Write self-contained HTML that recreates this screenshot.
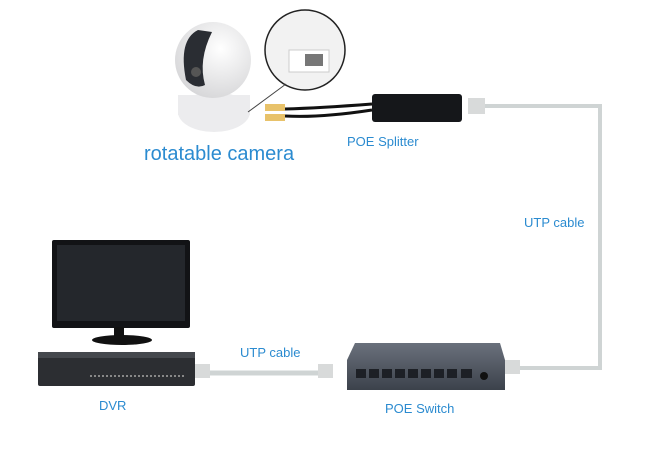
<!DOCTYPE html>
<html><head><style>
body{margin:0;background:#fff;}
svg{display:block;}
text{font-family:"Liberation Sans",sans-serif;fill:#2b8bd0;}
</style></head><body>
<svg width="650" height="469" viewBox="0 0 650 469">
<defs>
<linearGradient id="sw" x1="0" y1="0" x2="0" y2="1"><stop offset="0" stop-color="#6a717c"/><stop offset="1" stop-color="#3c424b"/></linearGradient>
<radialGradient id="ball" cx="0.6" cy="0.35" r="0.7"><stop offset="0" stop-color="#fff"/><stop offset="1" stop-color="#d6d6d8"/></radialGradient>
</defs>
<!-- cables -->
<path d="M485 106 H600 V368 H515" fill="none" stroke="#cfd4d4" stroke-width="4"/>
<line x1="205" y1="373" x2="330" y2="373" stroke="#cfd4d4" stroke-width="5"/>
<!-- camera -->
<ellipse cx="214" cy="112" rx="36" ry="20" fill="#ececee"/>
<rect x="178" y="95" width="72" height="20" fill="#ececee"/>
<circle cx="213" cy="60" r="38" fill="url(#ball)"/>
<path d="M198 30 Q178 40 186 80 Q196 90 205 85 Q198 60 212 32 Z" fill="#2a2d33"/>
<circle cx="196" cy="72" r="5" fill="#555"/>
<!-- magnifier -->
<circle cx="305" cy="50" r="40" fill="#f2f2f2" stroke="#222" stroke-width="1.5"/>
<rect x="289" y="50" width="40" height="22" fill="#fff" stroke="#ccc"/>
<rect x="305" y="54" width="18" height="12" fill="#777"/>
<line x1="286" y1="84" x2="248" y2="112" stroke="#444" stroke-width="1"/>
<!-- pigtails -->
<path d="M285 109 Q320 108 372 104 M285 116 Q320 118 372 110" stroke="#111" stroke-width="3" fill="none"/>
<rect x="265" y="104" width="20" height="7" fill="#e8c26a"/>
<rect x="265" y="114" width="20" height="7" fill="#e8c26a"/>
<!-- splitter -->
<rect x="372" y="94" width="90" height="28" rx="3" fill="#15171a"/>
<rect x="468" y="98" width="17" height="16" fill="#d8dada"/>
<text x="347" y="146" font-size="13">POE Splitter</text>
<text x="144" y="160" font-size="20">rotatable camera</text>
<text x="524" y="227" font-size="13">UTP cable</text>
<!-- monitor -->
<rect x="52" y="240" width="138" height="88" rx="2" fill="#121316"/>
<rect x="57" y="245" width="128" height="76" fill="#24272c"/>
<rect x="114" y="327" width="10" height="10" fill="#111"/>
<ellipse cx="122" cy="340" rx="30" ry="5" fill="#111"/>
<!-- DVR -->
<rect x="38" y="352" width="157" height="34" rx="2" fill="#2c2e32"/>
<rect x="38" y="352" width="157" height="6" fill="#45484d"/>
<line x1="90" y1="376" x2="185" y2="376" stroke="#888" stroke-width="2" stroke-dasharray="2 2"/>
<rect x="195" y="364" width="15" height="14" fill="#d8dada"/>
<rect x="318" y="364" width="15" height="14" fill="#d8dada"/>
<rect x="505" y="360" width="15" height="14" fill="#d8dada"/>
<!-- switch -->
<path d="M355 343 H500 L505 360 V390 H347 V360 Z" fill="url(#sw)"/>
<g fill="#1d2026">
<rect x="356" y="369" width="10" height="9"/><rect x="369" y="369" width="10" height="9"/><rect x="382" y="369" width="10" height="9"/><rect x="395" y="369" width="10" height="9"/><rect x="408" y="369" width="10" height="9"/><rect x="421" y="369" width="10" height="9"/><rect x="434" y="369" width="10" height="9"/><rect x="447" y="369" width="10" height="9"/><rect x="461" y="369" width="11" height="9"/>
</g>
<circle cx="484" cy="376" r="4" fill="#111"/>
<text x="240" y="357" font-size="13">UTP cable</text>
<text x="99" y="410" font-size="13">DVR</text>
<text x="385" y="413" font-size="13">POE Switch</text>
</svg>
</body></html>
